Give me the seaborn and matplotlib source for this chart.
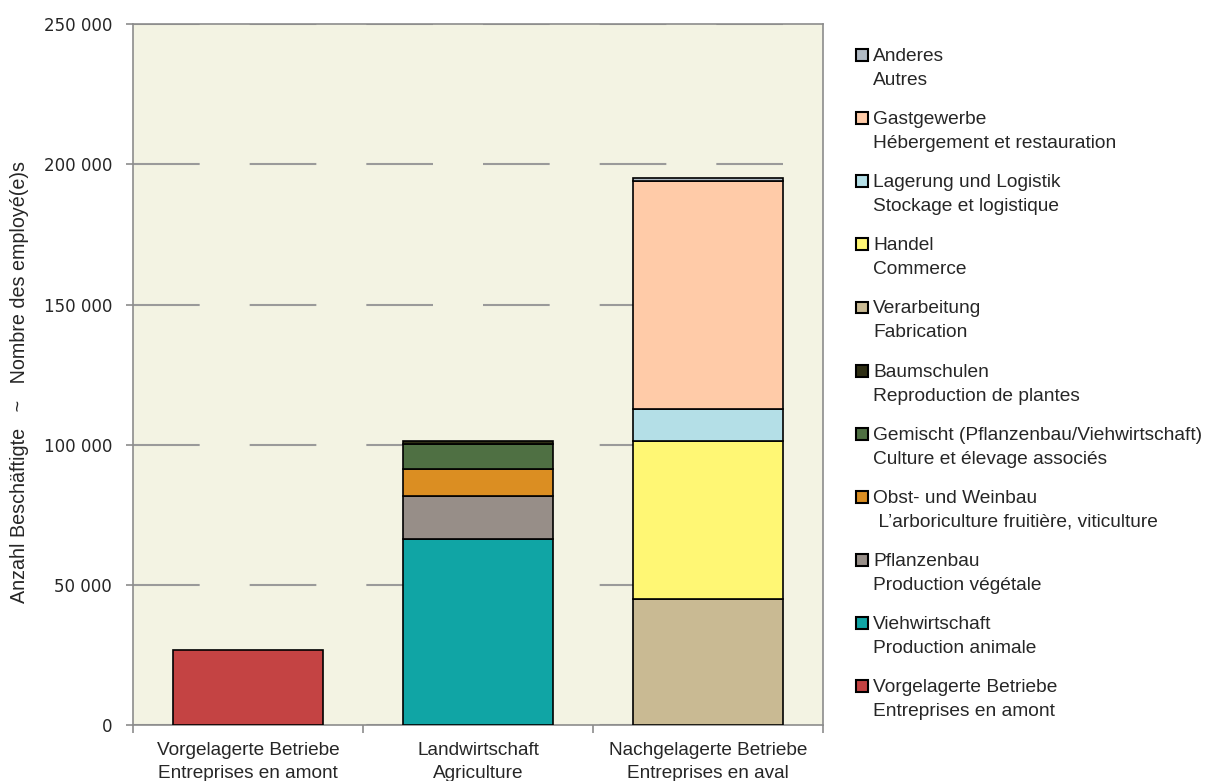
import matplotlib
matplotlib.use("Agg")
import matplotlib.pyplot as plt
import seaborn as sns
import pandas as pd
from matplotlib.patches import Rectangle, Patch
from matplotlib.legend_handler import HandlerPatch
from matplotlib.ticker import FuncFormatter, FixedLocator

# categories (x axis)
categories = ["Vorgelagerte Betriebe\nEntreprises en amont",
              "Landwirtschaft\nAgriculture",
              "Nachgelagerte Betriebe\nEntreprises en aval"]

# series, stacked from bottom to top
labels_de = ["Vorgelagerte Betriebe", "Viehwirtschaft", "Pflanzenbau", "Obst- und Weinbau",
             "Gemischt (Pflanzenbau/Viehwirtschaft)", "Baumschulen", "Verarbeitung",
             "Handel", "Lagerung und Logistik", "Gastgewerbe", "Anderes"]
labels_fr = ["Entreprises en amont", "Production animale", "Production végétale",
             " L\u2019arboriculture fruitière, viticulture", "Culture et élevage associés",
             "Reproduction de plantes", "Fabrication", "Commerce", "Stockage et logistique",
             "Hébergement et restauration", "Autres"]

vorgelagerte = [26700, 0, 0]
viehwirtschaft = [0, 66400, 0]
pflanzenbau = [0, 15500, 0]
obst_weinbau = [0, 9500, 0]
gemischt = [0, 9000, 0]
baumschulen = [0, 1000, 0]
verarbeitung = [0, 0, 45000]
handel = [0, 0, 56400]
lagerung = [0, 0, 11200]
gastgewerbe = [0, 0, 81500]
anderes = [0, 0, 1000]

series_values = [vorgelagerte, viehwirtschaft, pflanzenbau, obst_weinbau, gemischt,
                 baumschulen, verarbeitung, handel, lagerung, gastgewerbe, anderes]
series_colors = ["#C44343", "#10A5A5", "#978E88", "#DB8E22", "#4F7043", "#2E2E14",
                 "#C9BA93", "#FFF774", "#B4DFE7", "#FFCBA8", "#B0BAC4"]

sns.set_style("white")
plt.rcParams['font.family'] = ['Liberation Sans', 'DejaVu Sans']

fig = plt.figure(figsize=(12.05, 7.81), dpi=100)
ax = fig.add_axes([133/1205, 1-725.3/781, 690/1205, 701.3/781])
ax.set_facecolor("#F3F3E3")

bottom = [0, 0, 0]
for vals, col in zip(series_values, series_colors):
    df = pd.DataFrame({"cat": categories, "val": vals, "bottom": bottom})
    df = df[df["val"] > 0]
    sns.barplot(data=df, x="cat", y="val", order=categories, bottom=df["bottom"].values,
                color=col, saturation=1, edgecolor="black", linewidth=1.2,
                width=0.65, ax=ax, zorder=3)
    bottom = [b + v for b, v in zip(bottom, vals)]

ax.set_xlim(-0.5, 2.5)
ax.set_ylim(0, 250000)
ax.set_yticks(range(0, 250001, 50000))
ax.yaxis.set_major_formatter(FuncFormatter(lambda v, p: f"{int(v):,}".replace(",", " ")))
for lab in ax.get_yticklabels():
    lab.set_family("DejaVu Sans")
    lab.set_fontsize(12)
ax.tick_params(axis="y", direction="out", length=5, width=1.2, color="#8C8C8C", pad=10, left=True)

ax.xaxis.set_minor_locator(FixedLocator([-0.5, 0.5, 1.5, 2.5]))
ax.tick_params(axis="x", which="major", length=0, pad=12, labelsize=13.7)
ax.tick_params(axis="x", which="minor", direction="out", length=6, width=1.2, color="#8C8C8C", bottom=True)
for lab in ax.get_xticklabels():
    lab.set_linespacing(1.45)

ax.grid(axis="y", color="#9A9A9A", linewidth=1.5, linestyle=(0, (32, 24)), zorder=1)
ax.grid(axis="x", visible=False)
ax.set_axisbelow(True)
for s in ax.spines.values():
    s.set_color("#8C8C8C")
    s.set_linewidth(1.2)
    s.set_visible(True)

ax.set_xlabel("")
ax.set_ylabel("Anzahl Beschäftigte   ~   Nombre des employé(e)s", fontsize=14.2)
ax.yaxis.set_label_coords(-0.151, 0.49)

# legend: square aligned with first line of two-line label
fs = 13.8


def top_square(legend, orig_handle, xdescent, ydescent, width, height, fontsize):
    s = 0.62 * fontsize
    return Rectangle((-xdescent, 0.73 * fontsize), s, s)


handles = [Patch(facecolor=c, edgecolor="black", linewidth=1.5) for c in series_colors][::-1]
leg_labels = [f"{d}\n{f}" for d, f in zip(labels_de, labels_fr)][::-1]
leg = fig.legend(handles, leg_labels, loc="upper left", bbox_to_anchor=(856/1205, 1-48/781),
                 frameon=False, fontsize=fs, handlelength=0.62, handleheight=0.7,
                 handletextpad=0.28, labelspacing=1.16, borderaxespad=0, borderpad=0,
                 handler_map={Patch: HandlerPatch(patch_func=top_square)})
for t in leg.get_texts():
    t.set_linespacing(1.53)

fig.savefig("out.png", dpi=100)
